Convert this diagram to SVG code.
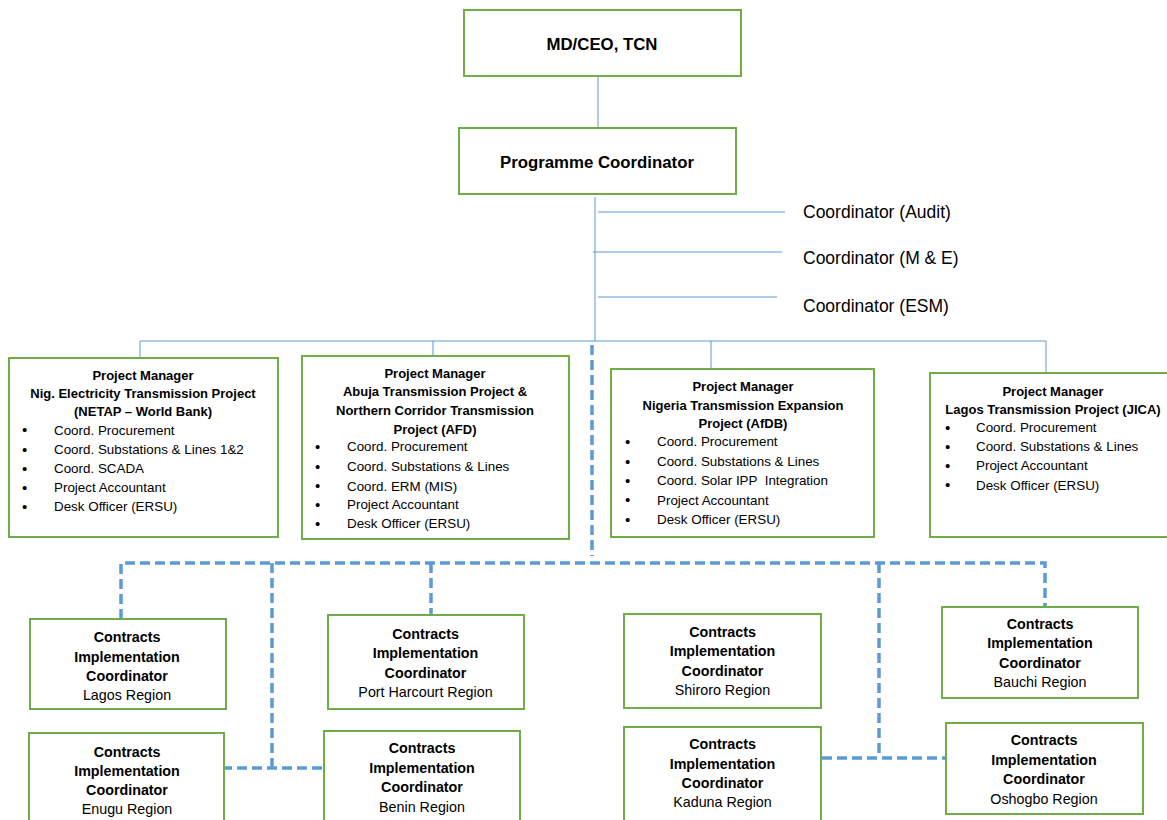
<svg xmlns="http://www.w3.org/2000/svg" width="1167" height="820" viewBox="0 0 1167 820">
<style>
.box{fill:#fff;stroke:#70AD47;stroke-width:2}
.ln{stroke:#5B9BD5;stroke-width:1;fill:none}
.dl{stroke:#5B9BD5;stroke-width:3.5;fill:none;stroke-dasharray:10 5}
text{font-family:"Liberation Sans",Arial,sans-serif;fill:#000}
.h{font-weight:bold;font-size:16.8px;text-anchor:middle}
.side{font-size:17.5px}
.t{font-weight:bold;font-size:13px;text-anchor:middle}
.b{font-size:13.4px}
.bu{font-size:15px}
.ct{font-weight:bold;font-size:14.3px;text-anchor:middle}
.cr{font-size:14.3px;text-anchor:middle}
</style>
<rect width="1167" height="820" fill="#fff"/>
<g id="connectors">
<line class="ln" x1="598" y1="76" x2="598" y2="128"/>
<line class="ln" x1="595" y1="197" x2="595" y2="341"/>
<line class="ln" x1="598" y1="212" x2="785" y2="212"/>
<line class="ln" x1="593" y1="252" x2="782" y2="252"/>
<line class="ln" x1="598" y1="297" x2="777" y2="297"/>
<polyline class="ln" points="140,358 140,341 1046,341 1046,373"/>
<line class="ln" x1="433" y1="341" x2="433" y2="356"/>
<line class="ln" x1="711" y1="341" x2="711" y2="369"/>
<line class="dl" x1="592" y1="345" x2="592" y2="556"/>
<polyline class="dl" points="121,619 121,563 1045,563 1045,607"/>
<polyline class="dl" points="272,563 272,768"/>
<line class="dl" x1="222" y1="768" x2="329" y2="768"/>
<line class="dl" x1="431" y1="563" x2="431" y2="615"/>
<polyline class="dl" points="879,563 879,758"/>
<line class="dl" x1="822" y1="758" x2="946" y2="758"/>
</g>
<g id="md">
<rect class="box" x="464" y="10" width="277" height="66"/>
<text class="h" x="602" y="50">MD/CEO, TCN</text>
</g>
<g id="pc">
<rect class="box" x="459" y="128" width="277" height="66"/>
<text class="h" x="597" y="168">Programme Coordinator</text>
</g>
<g id="coord-audit"><text class="side" x="803" y="218">Coordinator (Audit)</text></g>
<g id="coord-me"><text class="side" x="803" y="264">Coordinator (M &amp; E)</text></g>
<g id="coord-esm"><text class="side" x="803" y="312">Coordinator (ESM)</text></g>
<g id="pm-netap">
<rect class="box" x="9" y="358" width="269" height="179"/>
<text class="t" x="143" y="379.5">Project Manager</text>
<text class="t" x="143" y="398">Nig. Electricity Transmission Project</text>
<text class="t" x="143" y="416">(NETAP – World Bank)</text>
<g class="b">
<text class="bu" x="22" y="435">•</text><text x="54" y="434.5">Coord. Procurement</text>
<text class="bu" x="22" y="454.5">•</text><text x="54" y="454">Coord. Substations &amp; Lines 1&amp;2</text>
<text class="bu" x="22" y="473.5">•</text><text x="54" y="473">Coord. SCADA</text>
<text class="bu" x="22" y="492.5">•</text><text x="54" y="492">Project Accountant</text>
<text class="bu" x="22" y="511.5">•</text><text x="54" y="511">Desk Officer (ERSU)</text>
</g>
</g>
<g id="pm-afd">
<rect class="box" x="302" y="356" width="267" height="183"/>
<text class="t" x="435" y="377.5">Project Manager</text>
<text class="t" x="435" y="396">Abuja Transmission Project &amp;</text>
<text class="t" x="435" y="414.5">Northern Corridor Transmission</text>
<text class="t" x="435" y="433.5">Project (AFD)</text>
<g class="b">
<text class="bu" x="315" y="451.5">•</text><text x="347" y="451">Coord. Procurement</text>
<text class="bu" x="315" y="471.5">•</text><text x="347" y="471">Coord. Substations &amp; Lines</text>
<text class="bu" x="315" y="491">•</text><text x="347" y="490.5">Coord. ERM (MIS)</text>
<text class="bu" x="315" y="509.5">•</text><text x="347" y="509">Project Accountant</text>
<text class="bu" x="315" y="528.5">•</text><text x="347" y="528">Desk Officer (ERSU)</text>
</g>
</g>
<g id="pm-afdb">
<rect class="box" x="611" y="369" width="263" height="168"/>
<text class="t" x="743" y="391">Project Manager</text>
<text class="t" x="743" y="409.5">Nigeria Transmission Expansion</text>
<text class="t" x="743" y="428">Project (AfDB)</text>
<g class="b">
<text class="bu" x="625" y="446.5">•</text><text x="657" y="446">Coord. Procurement</text>
<text class="bu" x="625" y="466.5">•</text><text x="657" y="466">Coord. Substations &amp; Lines</text>
<text class="bu" x="625" y="485.5">•</text><text x="657" y="485" xml:space="preserve">Coord. Solar IPP  Integration</text>
<text class="bu" x="625" y="505">•</text><text x="657" y="504.5">Project Accountant</text>
<text class="bu" x="625" y="524.5">•</text><text x="657" y="524">Desk Officer (ERSU)</text>
</g>
</g>
<g id="pm-jica">
<rect class="box" x="930" y="373" width="240" height="164"/>
<text class="t" x="1053" y="395.5">Project Manager</text>
<text class="t" x="1053" y="413.5">Lagos Transmission Project (JICA)</text>
<g class="b">
<text class="bu" x="945" y="432.5">•</text><text x="976" y="432">Coord. Procurement</text>
<text class="bu" x="945" y="451.5">•</text><text x="976" y="451">Coord. Substations &amp; Lines</text>
<text class="bu" x="945" y="470.5">•</text><text x="976" y="470">Project Accountant</text>
<text class="bu" x="945" y="490">•</text><text x="976" y="489.5">Desk Officer (ERSU)</text>
</g>
</g>
<g id="cic-lagos">
<rect class="box" x="30" y="619" width="196" height="90"/>
<text class="ct" x="127" y="642">Contracts</text>
<text class="ct" x="127" y="661.5">Implementation</text>
<text class="ct" x="127" y="681">Coordinator</text>
<text class="cr" x="127" y="700">Lagos Region</text>
</g>
<g id="cic-ph">
<rect class="box" x="328" y="615" width="196" height="94"/>
<text class="ct" x="425.5" y="639">Contracts</text>
<text class="ct" x="425.5" y="658">Implementation</text>
<text class="ct" x="425.5" y="678">Coordinator</text>
<text class="cr" x="425.5" y="697">Port Harcourt Region</text>
</g>
<g id="cic-enugu">
<rect class="box" x="29" y="733" width="195" height="95"/>
<text class="ct" x="127" y="757">Contracts</text>
<text class="ct" x="127" y="776">Implementation</text>
<text class="ct" x="127" y="795">Coordinator</text>
<text class="cr" x="127" y="814">Enugu Region</text>
</g>
<g id="cic-benin">
<rect class="box" x="324" y="731" width="196" height="97"/>
<text class="ct" x="422" y="753">Contracts</text>
<text class="ct" x="422" y="773">Implementation</text>
<text class="ct" x="422" y="792">Coordinator</text>
<text class="cr" x="422" y="812">Benin Region</text>
</g>
<g id="cic-shiroro">
<rect class="box" x="624" y="614" width="197" height="94"/>
<text class="ct" x="722.5" y="637">Contracts</text>
<text class="ct" x="722.5" y="656">Implementation</text>
<text class="ct" x="722.5" y="676">Coordinator</text>
<text class="cr" x="722.5" y="695">Shiroro Region</text>
</g>
<g id="cic-kaduna">
<rect class="box" x="624" y="727" width="197" height="101"/>
<text class="ct" x="722.5" y="749">Contracts</text>
<text class="ct" x="722.5" y="769">Implementation</text>
<text class="ct" x="722.5" y="788">Coordinator</text>
<text class="cr" x="722.5" y="807">Kaduna Region</text>
</g>
<g id="cic-bauchi">
<rect class="box" x="942" y="607" width="196" height="91"/>
<text class="ct" x="1040" y="629">Contracts</text>
<text class="ct" x="1040" y="648">Implementation</text>
<text class="ct" x="1040" y="668">Coordinator</text>
<text class="cr" x="1040" y="687">Bauchi Region</text>
</g>
<g id="cic-oshogbo">
<rect class="box" x="946" y="723" width="197" height="91"/>
<text class="ct" x="1044" y="745">Contracts</text>
<text class="ct" x="1044" y="765">Implementation</text>
<text class="ct" x="1044" y="784">Coordinator</text>
<text class="cr" x="1044" y="804">Oshogbo Region</text>
</g>
</svg>
